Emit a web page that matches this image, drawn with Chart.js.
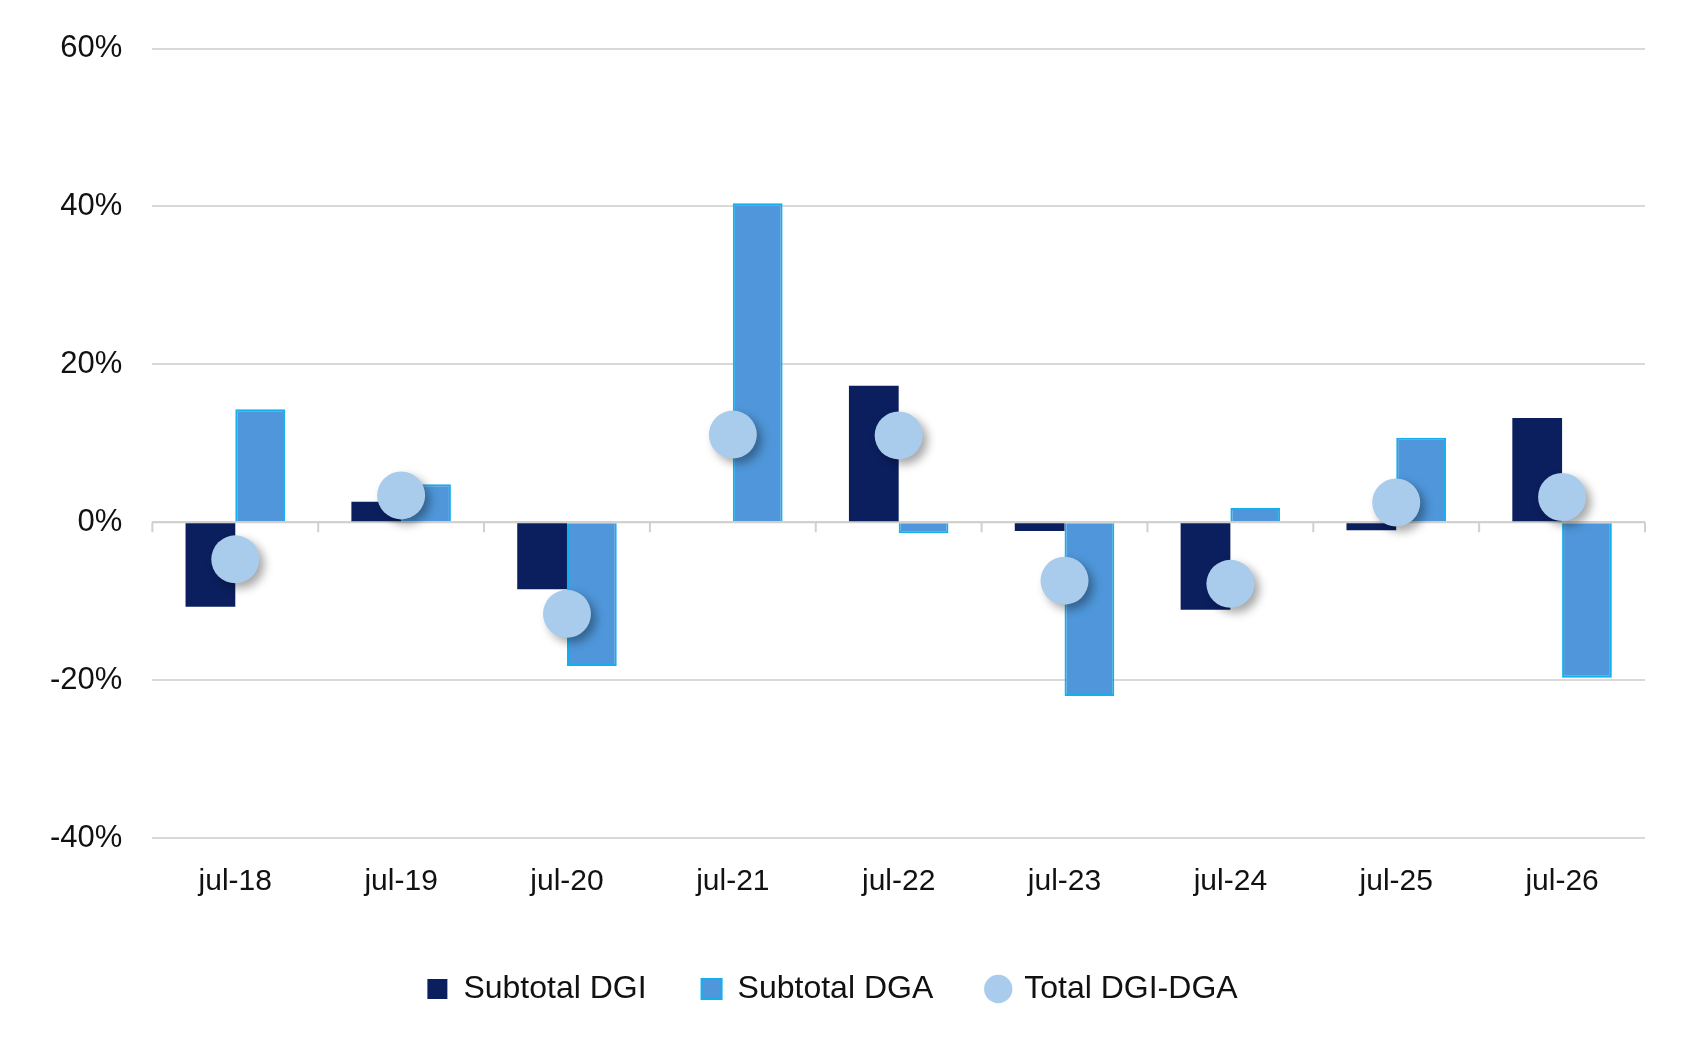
<!DOCTYPE html>
<html><head><meta charset="utf-8">
<script src="https://cdn.jsdelivr.net/npm/chart.js@4"></script>
<style>html,body{margin:0;background:#fff}#w{width:1695px;height:1045px}</style>
</head><body><div id="w"><canvas id="c"></canvas></div>
<script>
const categories=['jul-18','jul-19','jul-20','jul-21','jul-22','jul-23','jul-24','jul-25','jul-26'];
const subtotalDGI=[-10.7,2.6,-8.5,0,17.3,-1.1,-11.1,-1.0,13.2];
const subtotalDGA=[14.3,4.8,-18.2,40.4,-1.4,-22.0,1.8,10.7,-19.7];
const totalDGIDGA=[-4.7,3.4,-11.6,11.1,11.0,-7.4,-7.8,2.5,3.2];
const shadow={id:'sh',beforeDatasetDraw(ch,a){if(a.index===2){const x=ch.ctx;x.save();x.shadowColor='rgba(0,0,0,0.35)';x.shadowBlur=10;x.shadowOffsetX=5;x.shadowOffsetY=5;}},afterDatasetDraw(ch,a){if(a.index===2)ch.ctx.restore();}};
const zero={id:'zero',beforeDatasetsDraw(ch){const x=ch.ctx,xs=ch.scales.x,y0=ch.scales.y.getPixelForValue(0),a=ch.chartArea;x.save();x.strokeStyle='#d0d0d0';x.lineWidth=2;x.beginPath();x.moveTo(a.left,y0);x.lineTo(a.right,y0);const w=(a.right-a.left)/categories.length;for(let i=0;i<=categories.length;i++){const px=a.left+i*w;x.moveTo(px,y0);x.lineTo(px,y0+10);}x.stroke();x.restore();}};
new Chart(document.getElementById('c'),{
data:{labels:categories,datasets:[
{type:'bar',label:'Subtotal DGI',data:subtotalDGI,backgroundColor:'#0B1F5E',barPercentage:1,categoryPercentage:0.6,order:2},
{type:'bar',label:'Subtotal DGA',data:subtotalDGA,backgroundColor:'#4F97DA',borderColor:'#12B0EE',borderWidth:2,barPercentage:1,categoryPercentage:0.6,order:2},
{type:'line',label:'Total DGI-DGA',data:totalDGIDGA,showLine:false,pointRadius:24,pointHoverRadius:24,pointBackgroundColor:'#A9CBEC',pointBorderWidth:0,backgroundColor:'#A9CBEC',borderColor:'#A9CBEC',pointStyle:'circle',order:1}]},
options:{responsive:true,maintainAspectRatio:false,animation:false,
layout:{padding:{left:20,right:50,top:38,bottom:30}},
plugins:{tooltip:{enabled:false},legend:{position:'bottom',labels:{sort:(a,b)=>a.datasetIndex-b.datasetIndex,usePointStyle:true,padding:55,font:{family:'Liberation Sans',size:32},color:'#111',boxWidth:20,boxHeight:20,
generateLabels(ch){return ch.data.datasets.map((d,i)=>({text:d.label,datasetIndex:i,fillStyle:d.backgroundColor,strokeStyle:d.borderColor||d.backgroundColor,lineWidth:i===1?2:0,pointStyle:i===2?'circle':'rect',fontColor:'#111'}));}}}},
scales:{x:{grid:{display:false},border:{display:false},ticks:{font:{family:'Liberation Sans',size:30},color:'#111',padding:18}},
y:{min:-40,max:60,ticks:{stepSize:20,callback:v=>v+'%',font:{family:'Liberation Sans',size:31},color:'#111',padding:30},grid:{color:'#d9d9d9',lineWidth:2,drawTicks:false},border:{display:false}}}},
plugins:[shadow,zero]});
</script></body></html>
